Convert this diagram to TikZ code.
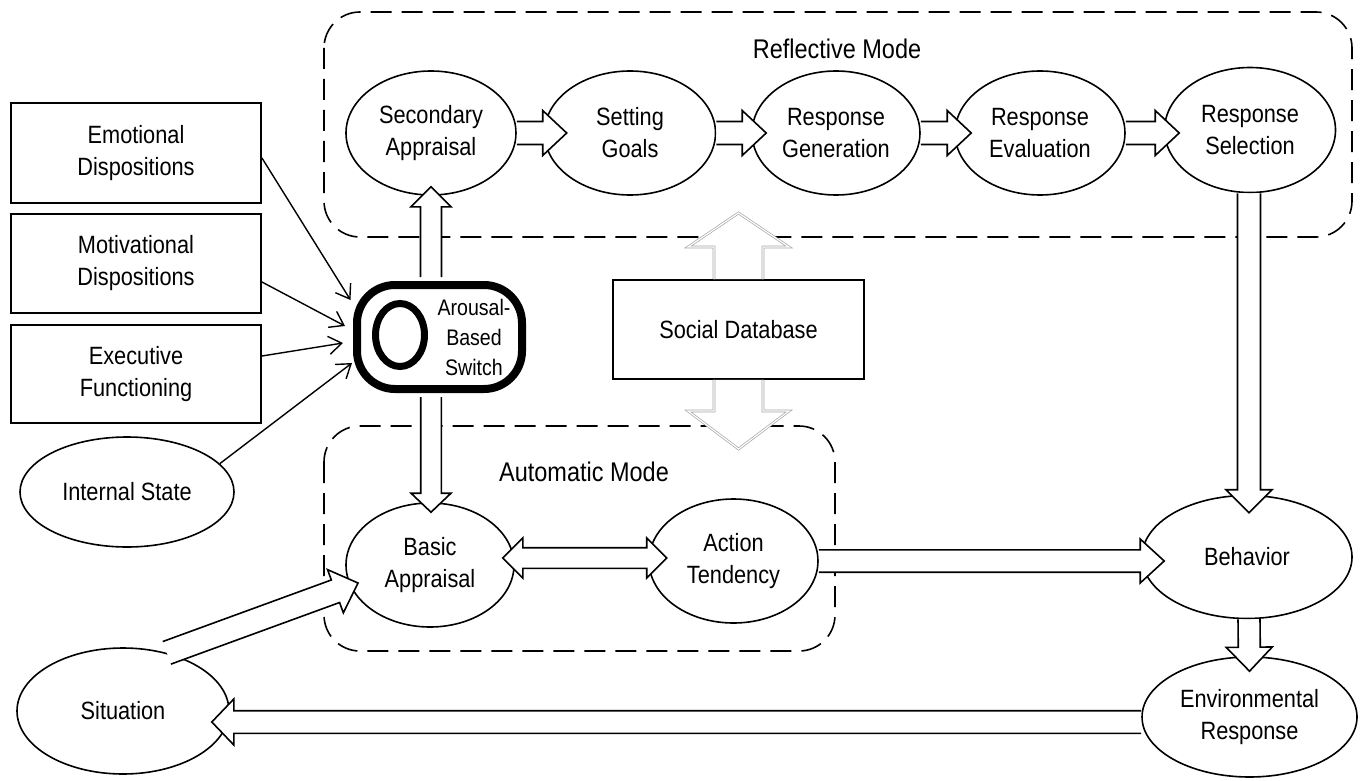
\documentclass[tikz,border=0pt]{standalone}
\usepackage{fontspec}
\setmainfont{Liberation Sans}[FakeStretch=0.87]
\usetikzlibrary{shapes.geometric,calc,arrows.meta}
\newcommand\mainfs{\fontsize{25}{32}\selectfont}
\newcommand\labfs{\fontsize{27}{32}\selectfont}
\newcommand\swfs{\fontsize{22.5}{30}\selectfont}
% block arrow: style, start, tip, shaft half width, head half width, head length
\newcommand\blockarr[6]{%
  \path[#1] ($(#2)!#4!90:(#3)$) -- ($(#3)!#6!(#2)!#4!-90:(#2)$) -- ($(#3)!#6!(#2)!#5!-90:(#2)$) -- (#3) -- ($(#3)!#6!(#2)!#5!90:(#2)$) -- ($(#3)!#6!(#2)!#4!90:(#2)$) -- ($(#2)!#4!-90:(#3)$);}
% double headed block arrow: style, tip A, tip B, shaft half, head half, head length
\newcommand\dblarr[6]{%
  \path[#1] (#2) -- ($(#2)!#6!(#3)!#5!90:(#3)$) -- ($(#2)!#6!(#3)!#4!90:(#3)$) -- ($(#3)!#6!(#2)!#4!-90:(#2)$) -- ($(#3)!#6!(#2)!#5!-90:(#2)$) -- (#3) -- ($(#3)!#6!(#2)!#5!90:(#2)$) -- ($(#3)!#6!(#2)!#4!90:(#2)$) -- ($(#2)!#6!(#3)!#4!-90:(#3)$) -- ($(#2)!#6!(#3)!#5!-90:(#3)$) -- cycle;}
\begin{document}
\begin{tikzpicture}[x=1pt,y=-1pt,
  ell/.style={ellipse, draw, line width=1.6pt, inner sep=0pt, align=center, font=\mainfs},
  box/.style={rectangle, draw, line width=1.9pt, inner sep=0pt, align=center, font=\mainfs},
  modebox/.style={draw, dash pattern=on 21pt off 10pt, line width=1.6pt, rounded corners=36pt},
  thinarrow/.style={line width=1.4pt, -{Straight Barb[length=13pt,width=18pt]}},
  blk/.style={draw=black, fill=white, line width=1.6pt, line join=miter},
  gblk/.style={draw=gray!70, double=white, double distance=1.2pt, line width=0.7pt, fill=white, line join=miter},
  lab/.style={font=\labfs, inner sep=0pt}]
\useasboundingbox (0,0) rectangle (1362,781);

% mode boxes
\draw[modebox] (324,12) rectangle (1352,237);
\draw[modebox] (324,426) rectangle (835,651);
\node[lab] (rmlab) at (837,49) {Reflective Mode};
\node[lab] (amlab) at (584,472) {Automatic Mode};

% reflective row
\node[ell, minimum width=170pt, minimum height=124pt] (sa) at (431,133) {Secondary\\Appraisal};
\node[ell, minimum width=171pt, minimum height=124pt] (sg) at (630,133) {Setting\\Goals};
\node[ell, minimum width=168pt, minimum height=124pt] (rg) at (836,133) {Response\\Generation};
\node[ell, minimum width=170pt, minimum height=124pt] (re) at (1040,133) {Response\\Evaluation};
\node[ell, minimum width=171pt, minimum height=125pt] (rs) at (1250,130) {Response\\Selection};

% automatic row
\node[ell, minimum width=168pt, minimum height=124pt] (ba) at (430,565) {Basic\\Appraisal};
\node[ell, minimum width=169pt, minimum height=124pt] (at) at (733.5,561) {Action\\Tendency};

% right column
\node[ell, minimum width=210pt, minimum height=123pt] (beh) at (1247,557) {Behavior};
\node[ell, minimum width=215pt, minimum height=120pt] (env) at (1249.5,717) {Environmental\\Response};

% left
\node[ell, minimum width=212pt, minimum height=126pt] (sit) at (123,711) {Situation};
\node[ell, minimum width=214pt, minimum height=110pt] (is) at (127,492) {Internal State};
\node[box, minimum width=250pt, minimum height=100pt] (ed) at (136,153) {Emotional\\Dispositions};
\node[box, minimum width=250pt, minimum height=99pt] (md) at (136,263.5) {Motivational\\Dispositions};
\node[box, minimum width=250pt, minimum height=98pt] (ef) at (136,374) {Executive\\Functioning};

% social database
\node[box, minimum width=251pt, minimum height=99pt] (sdb) at (738.5,329.5) {Social Database};

% arousal-based switch
\node[draw, line width=8pt, rounded corners=38pt, minimum width=165pt, minimum height=104pt, inner sep=0pt] (sw) at (439.5,337) {};
\node[ellipse, draw, line width=7pt, minimum width=49pt, minimum height=63pt, inner sep=0pt] (ring) at (400,335) {};
\node[font=\swfs, align=center, inner sep=0pt] (swt) at (474,337) {Arousal-\\Based\\Switch};

% thin arrows into the switch
\coordinate (e1) at ([shift={(-89,-37)}]sw.center);
\coordinate (e2) at ([shift={(-94.5,-11)}]sw.center);
\coordinate (e3) at ([shift={(-96.5,6)}]sw.center);
\coordinate (e4) at ([shift={(-87.5,26)}]sw.center);
\draw[thinarrow] ([shift={(0,5)}]ed.east) -- (e1);
\draw[thinarrow] ([shift={(0,18.5)}]md.east) -- (e2);
\draw[thinarrow] ([shift={(0,-18)}]ef.east) -- (e3);
\draw[thinarrow] (is.17) -- (e4);

% reflective chain
\coordinate (t1) at ([shift={(23,0)}]sg.west);
\coordinate (t2) at ([shift={(15,0)}]rg.west);
\coordinate (t3) at ([shift={(17,0)}]re.west);
\coordinate (t4) at ([shift={(15.5,3)}]rs.west);
\blockarr{blk}{sa.east}{t1}{11.5pt}{22.5pt}{24pt}
\blockarr{blk}{sg.east}{t2}{11.5pt}{22.5pt}{24pt}
\blockarr{blk}{rg.east}{t3}{11.5pt}{22.5pt}{24pt}
\blockarr{blk}{re.east}{t4}{11.5pt}{22.5pt}{24pt}

% switch up / down
\coordinate (swup) at ([shift={(-8.5,-4)}]sw.north);
\coordinate (saup) at ([shift={(0,-9)}]sa.south);
\blockarr{blk}{swup}{saup}{10.5pt}{20pt}{20pt}
\coordinate (swdn) at ([shift={(-8.5,4)}]sw.south);
\coordinate (badn) at ([shift={(1,10)}]ba.north);
\blockarr{blk}{swdn}{badn}{10.3pt}{20pt}{19pt}

% basic <-> action
\coordinate (bat) at ([shift={(-12,-7)}]ba.east);
\coordinate (att) at ([shift={(18.5,-3)}]at.west);
\dblarr{blk}{bat}{att}{10.3pt}{20pt}{20pt}

% action -> behavior
\coordinate (beht) at ([shift={(23,4)}]beh.west);
\blockarr{blk}{at.east}{beht}{11.2pt}{22pt}{24pt}

% selection -> behavior
\coordinate (rss) at ([shift={(-1,0)}]rs.south);
\coordinate (behn) at ([shift={(2,18)}]beh.north);
\blockarr{blk}{rss}{behn}{11.5pt}{23pt}{23pt}

% behavior -> environmental response
\coordinate (behs) at ([shift={(2,0)}]beh.south);
\coordinate (envn) at ([shift={(0,15)}]env.north);
\blockarr{blk}{behs}{envn}{11pt}{23pt}{24pt}

% environmental response -> situation
\coordinate (envw) at ([shift={(0,5)}]env.west);
\coordinate (site) at ([shift={(-18,11)}]sit.east);
\blockarr{blk}{envw}{site}{11.3pt}{23pt}{22pt}

% situation -> basic appraisal
\coordinate (bal) at ([shift={(-72,18)}]ba.center);
\blockarr{blk}{sit.53}{bal}{12pt}{23pt}{24pt}

% social database arrows
\coordinate (sdbup) at (738.5,213);
\coordinate (sdbdn) at (738.5,449);
\blockarr{gblk}{sdb.north}{sdbup}{24.5pt}{50.5pt}{34pt}
\blockarr{gblk}{sdb.south}{sdbdn}{24.5pt}{50.5pt}{38pt}
\end{tikzpicture}
\end{document}
